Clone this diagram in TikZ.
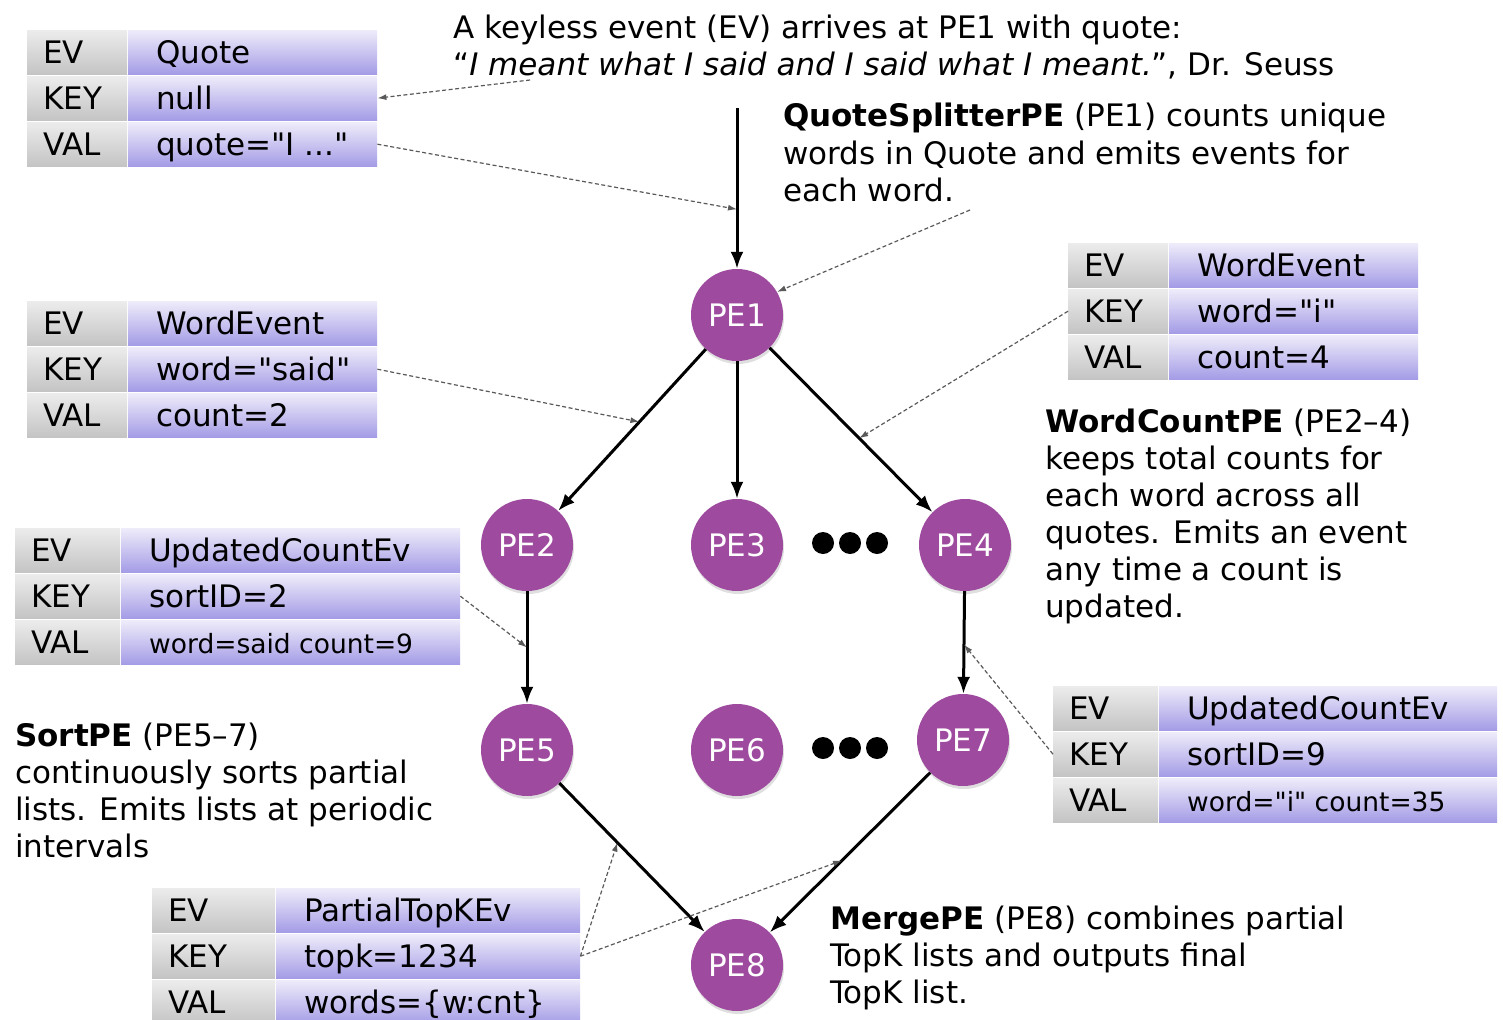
\documentclass[tikz,border=0pt]{standalone}
\usepackage{fontspec}
\setmainfont{DejaVu Sans}[Ligatures=TeXOff]
\usetikzlibrary{arrows.meta, shadows, calc}
\definecolor{pepurple}{RGB}{158,74,158}
\definecolor{valtop}{RGB}{238,236,250}
\definecolor{valbot}{RGB}{164,156,230}
\definecolor{lbltop}{RGB}{236,236,236}
\definecolor{lblbot}{RGB}{196,196,196}
\tikzset{
  pe/.style={circle, fill=pepurple, text=white, minimum size=92pt, inner sep=0pt,
             font=\fontsize{31}{34}\selectfont,
             drop shadow={opacity=0.25, shadow xshift=1pt, shadow yshift=-3pt}},
  flow/.style={-{Latex[length=17pt,width=13pt]}, line width=3pt},
  hint/.style={-{Latex[length=9pt,width=6pt]}, dashed, dash pattern=on 4pt off 2.5pt,
               line width=1.2pt, black!65},
  lblcell/.style={rectangle, top color=lbltop, bottom color=lblbot, draw=none,
                  minimum height=44pt, inner sep=0pt, anchor=north west},
  valcell/.style={rectangle, top color=valtop, bottom color=valbot, draw=none,
                  minimum height=44pt, inner sep=0pt, anchor=north west},
  celltext/.style={font=\fontsize{31}{36}\selectfont, anchor=west, inner sep=0pt,
                   text height=26pt, text depth=3pt},
  remark/.style={font=\fontsize{31}{37}\selectfont, align=left, anchor=base west,
                 inner sep=0pt},
}
\newcommand{\smallval}{\fontsize{26.5}{30}\selectfont}
% #1 name, #2 left x, #3 top y, #4 split x, #5 right x, #6 EV, #7 KEY, #8 VAL
\newcommand{\evtable}[8]{%
  \pgfmathsetmacro{\lw}{#4-#2}
  \pgfmathsetmacro{\vw}{#5-#4-1}
  \foreach \r/\lbl/\txt in {0/EV/{#6},1/KEY/{#7},2/VAL/{#8}}{
    \pgfmathsetmacro{\rowy}{#3+46*\r}
    \node[lblcell, minimum width=\lw pt] (#1-\lbl-tag) at (#2,\rowy) {};
    \node[valcell, minimum width=\vw pt] (#1-\lbl) at (#4+1,\rowy) {};
    \node[celltext] at ([xshift=16pt]#1-\lbl-tag.west) {\lbl};
    \node[celltext] at ([xshift=28pt]#1-\lbl.west) {\txt};
  }
}

\begin{document}
\begin{tikzpicture}[x=1pt, y=-1pt]
\useasboundingbox (0,0) rectangle (1503,1019);

% ── PE 节点 ──────────────────────────────────────────────────────────────────
\node[pe] (pe1) at (737,315) {PE1};
\node[pe] (pe2) at (527,545) {PE2};
\node[pe] (pe3) at (737,545) {PE3};
\node[pe] (pe4) at (965,545) {PE4};
\node[pe] (pe5) at (527,750) {PE5};
\node[pe] (pe6) at (737,750) {PE6};
\node[pe] (pe7) at (963,740) {PE7};
\node[pe] (pe8) at (737,965) {PE8};

% 省略号
\foreach \dx in {823,850,877}{
  \fill (\dx,543) circle (11pt);
  \fill (\dx,748) circle (11pt);
}

% ── 事件流 ───────────────────────────────────────────────────────────────────
\coordinate (qin) at (737,108);
\draw[flow] (qin) -- coordinate[pos=0.63] (inmid) (pe1);
\draw[flow] (pe1) -- coordinate[pos=0.45] (m12) (pe2);
\draw[flow] (pe1) -- (pe3);
\draw[flow] (pe1) -- coordinate[pos=0.55] (m14) (pe4);
\draw[flow] (pe2) -- coordinate[pos=0.5] (m25) (pe5);
\draw[flow] (pe4) -- coordinate[pos=0.52] (m47) (pe7);
\draw[flow] (pe5) -- coordinate[pos=0.4] (m58) (pe8);
\draw[flow] (pe7) -- coordinate[pos=0.55] (m78) (pe8);

% ── 事件表 ───────────────────────────────────────────────────────────────────
\evtable{tq}{27}{30}{127}{377}{Quote}{null}{quote="I ..."}
\evtable{ts}{27}{301}{127}{377}{WordEvent}{word="said"}{count=2}
\evtable{ti}{1068}{243}{1168}{1418}{WordEvent}{word="i"}{count=4}
\evtable{tu}{15}{528}{120}{460}{UpdatedCountEv}{sortID=2}{\smallval word=said count=9}
\evtable{tv}{1053}{686}{1158}{1497}{UpdatedCountEv}{sortID=9}{\smallval word="i" count=35}
\evtable{tp}{152}{888}{275}{580}{PartialTopKEv}{topk=1234}{words=\{w:cnt\}}

% ── 说明文字（锚点为末行基线） ───────────────────────────────────────────────
\node[remark] (introtext) at (453,76)
  {A keyless event (EV) arrives at PE1 with quote:\\
   “\textit{I meant what I said and I said what I meant.}”, Dr. Seuss};
\node[remark] (splittext) at (783,201)
  {\textbf{QuoteSplitterPE} (PE1) counts unique\\words in Quote and emits events for\\each word.};
\node[remark] (counttext) at (1045,617)
  {\textbf{WordCountPE} (PE2–4)\\keeps total counts for\\each word across all\\quotes. Emits an event\\any time a count is\\updated.};
\node[remark] (sorttext) at (15,857)
  {\textbf{SortPE} (PE5–7)\\continuously sorts partial\\lists. Emits lists at periodic\\intervals};
\node[remark] (mergetext) at (830,1003)
  {\textbf{MergePE} (PE8) combines partial\\TopK lists and outputs final\\TopK list.};

% ── 虚线指示 ─────────────────────────────────────────────────────────────────
\coordinate (qsrc) at (530,80);
\coordinate (splitsrc) at (970,210);
\draw[hint] (qsrc) -- (tq-KEY.east);
\draw[hint] (tq-VAL.east) -- (inmid);
\draw[hint] (splitsrc) -- (pe1.30);
\draw[hint] (ts-KEY.east) -- (m12);
\draw[hint] (ti-KEY-tag.west) -- (m14);
\draw[hint] (tu-KEY.east) -- (m25);
\draw[hint] (tv-KEY-tag.west) -- (m47);
\draw[hint] (tp-KEY.east) -- (m58);
\draw[hint] (tp-KEY.east) -- (m78);

\end{tikzpicture}
\end{document}
